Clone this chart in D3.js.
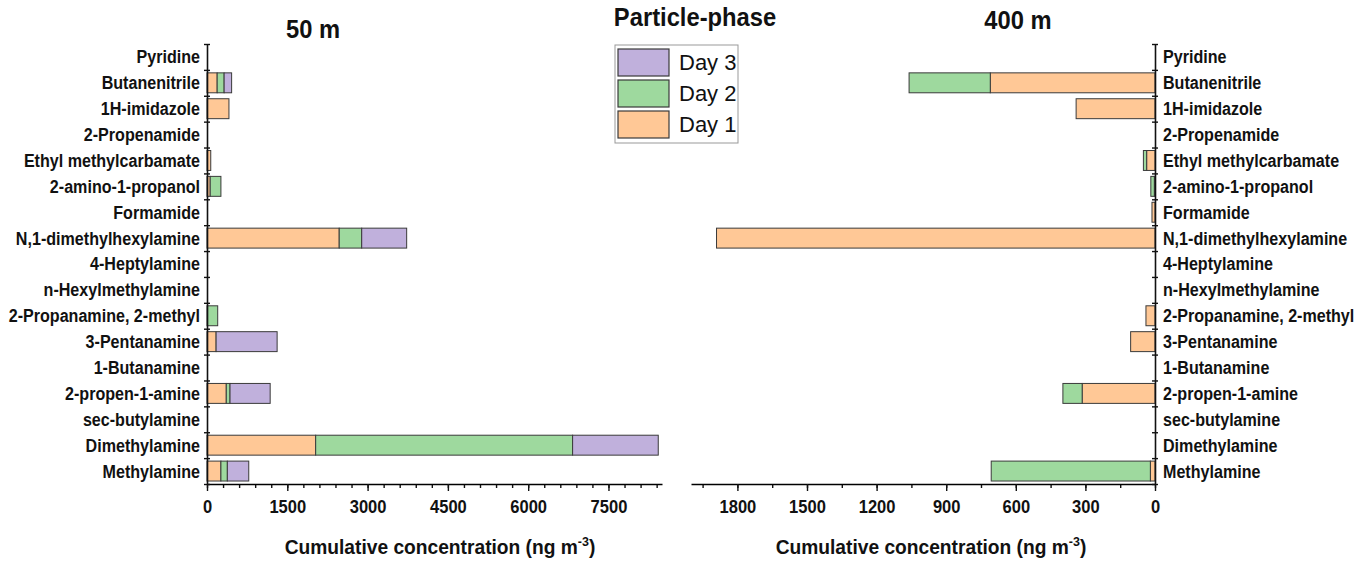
<!DOCTYPE html>
<html lang="en">
<head>
    <meta charset="UTF-8">
    <title>Particle-phase amines</title>
    <script src="https://d3js.org/d3.v7.min.js"></script>
    <style>
        body{ margin: 0; background: #fff; }
        svg{ display: block; }
        text{ fill: #111; }
        .cat{ font-family: "Liberation Sans", Arial, sans-serif; font-weight: bold; font-size: 18.5px; }
        .tick text{ font-family: "Liberation Sans", Arial, sans-serif; font-weight: bold; font-size: 19px; fill: #111; }
        .title{ font-family: "Liberation Sans", Arial, sans-serif; font-weight: bold; font-size: 25px; }
        .axtitle{ font-family: "Liberation Sans", Arial, sans-serif; font-weight: bold; font-size: 20px; }
        .legend text{ font-family: "Liberation Sans", Arial, sans-serif; font-size: 22px; }
    </style>
</head>
<body>
<script>

    const width = 1368
    const height = 566
    const narrow = 0.87   // the original uses a condensed face

    // categories from top to bottom
    const categories = ["Pyridine", "Butanenitrile", "1H-imidazole", "2-Propenamide",
        "Ethyl methylcarbamate", "2-amino-1-propanol", "Formamide", "N,1-dimethylhexylamine",
        "4-Heptylamine", "n-Hexylmethylamine", "2-Propanamine, 2-methyl", "3-Pentanamine",
        "1-Butanamine", "2-propen-1-amine", "sec-butylamine", "Dimethylamine", "Methylamine"]

    const days = ["Day 1", "Day 2", "Day 3"]
    const dayColors = ["#FFC896", "#9ED99E", "#C0B0DC"]

    // 50 m site (ng m-3)
    const day1At50 = [0, 190, 410, 0, 70, 60, 0, 2470, 0, 0, 10, 170, 0, 360, 0, 2030, 260]
    const day2At50 = [0, 130, 0, 0, 0, 200, 0, 420, 0, 0, 190, 0, 0, 70, 0, 4800, 120]
    const day3At50 = [0, 140, 0, 0, 0, 0, 0, 840, 0, 0, 0, 1140, 0, 750, 0, 1600, 400]

    // 400 m site (ng m-3)
    const day1At400 = [0, 710, 340, 0, 36, 3, 13, 1890, 0, 0, 39, 105, 0, 314, 0, 0, 20]
    const day2At400 = [0, 350, 0, 0, 14, 15, 0, 0, 0, 0, 0, 0, 0, 83, 0, 0, 686]
    const day3At400 = [0, 0, 0, 0, 0, 0, 0, 0, 0, 0, 0, 0, 0, 0, 0, 0, 0]

    const ticks50 = [0, 1500, 3000, 4500, 6000, 7500]
    const ticks400 = [0, 300, 600, 900, 1200, 1500, 1800]

    let svg = d3.select("body").append("svg")
                .attr("width", width)
                .attr("height", height)

    const plotTop = 44, plotBottom = 484

    function toRows(d1, d2, d3) {
        return categories.map((c, i) => ({cat: c, "Day 1": d1[i], "Day 2": d2[i], "Day 3": d3[i]}))
    }

    const y = d3.scaleBand().domain(categories)
                .range([plotTop, plotBottom])
                .paddingInner(0.23)
                .paddingOuter(0.115)

    const yEdge = d3.scaleLinear().domain([0, categories.length]).range([plotTop, plotBottom])

    const stack = d3.stack().keys(days)

    function drawPanel(opts) {
        const g = svg.append("g")
        const x = opts.x
        const series = stack(opts.rows)

        g.selectAll("g.series")
            .data(series)
            .enter()
            .append("g")
            .attr("fill", (d, i) => dayColors[i])
            .selectAll("rect")
            .data(d => d.filter(p => p[1] - p[0] > 0))
            .enter()
            .append("rect")
            .attr("x", d => Math.min(x(d[0]), x(d[1])))
            .attr("width", d => Math.abs(x(d[1]) - x(d[0])))
            .attr("y", d => y(d.data.cat))
            .attr("height", y.bandwidth())
            .attr("stroke", "#3a3a3a")
            .attr("stroke-width", 1)

        // x axis, major and minor ticks
        const xAxisG = g.append("g").attr("transform", `translate(0,${plotBottom})`)
        xAxisG.append("g")
            .call(d3.axisBottom(x).tickValues(opts.minor).tickSize(4).tickFormat("").tickSizeOuter(0))
            .call(a => a.select(".domain").remove())
        xAxisG.append("g")
            .call(d3.axisBottom(x).tickValues(opts.ticks).tickSize(7).tickPadding(9)
                    .tickFormat(d3.format("d")).tickSizeOuter(0))
            .call(a => a.select(".domain").attr("stroke-width", 1.6))
        xAxisG.selectAll("line").attr("stroke", "#111").attr("stroke-width", 1.4)
        xAxisG.selectAll(".tick text").attr("transform", `scale(${narrow},1)`)

        // category axis with ticks crossing at band edges
        const x0 = x(0)
        const yAxisG = g.append("g").attr("transform", `translate(${x0},0)`)
        yAxisG.call(d3.axisLeft(yEdge).ticks(categories.length).tickSize(3).tickFormat("").tickSizeOuter(0))
        yAxisG.selectAll(".tick line").attr("x1", 3).attr("stroke", "#111").attr("stroke-width", 1.4)
        yAxisG.select(".domain").attr("stroke", "#111").attr("stroke-width", 1.6)

        g.selectAll("text.cat")
            .data(categories)
            .enter()
            .append("text")
            .attr("class", "cat")
            .attr("transform", d => `translate(${x0 + opts.labelDx},${y(d) + y.bandwidth() / 2}) scale(${narrow},1)`)
            .attr("dy", "0.35em")
            .attr("text-anchor", opts.labelAnchor)
            .text(d => d)

        const t = g.append("text")
            .attr("class", "axtitle")
            .attr("transform", `translate(${opts.titleX},554) scale(0.96,1)`)
            .attr("text-anchor", "middle")
        t.append("tspan").text("Cumulative concentration (ng m")
        t.append("tspan").attr("dy", -8).attr("font-size", 13).text("-3")
        t.append("tspan").attr("dy", 8).text(")")
    }

    const x50 = d3.scaleLinear().domain([0, 8500]).range([207, 662])
    drawPanel({
        x: x50, rows: toRows(day1At50, day2At50, day3At50),
        ticks: ticks50, minor: d3.range(0, 8501, 300),
        labelDx: -7, labelAnchor: "end", titleX: 440
    })

    const x400 = d3.scaleLinear().domain([2000, 0]).range([691, 1155])
    drawPanel({
        x: x400, rows: toRows(day1At400, day2At400, day3At400),
        ticks: ticks400, minor: d3.range(0, 2001, 150),
        labelDx: 8, labelAnchor: "start", titleX: 931
    })

    // titles
    const titles = [["50 m", 313, 38], ["Particle-phase", 695, 26], ["400 m", 1018, 29]]
    svg.selectAll("text.title")
        .data(titles)
        .enter()
        .append("text")
        .attr("class", "title")
        .attr("transform", d => `translate(${d[1]},${d[2]}) scale(0.95,1)`)
        .attr("text-anchor", "middle")
        .text(d => d[0])

    // legend, Day 3 on top
    const legend = svg.append("g").attr("class", "legend").attr("transform", "translate(615,45)")
    legend.append("rect").attr("width", 123).attr("height", 98)
        .attr("fill", "#fff").attr("stroke", "#999").attr("stroke-width", 1)
    const order = [2, 1, 0]
    const li = legend.selectAll("g.item").data(order).enter().append("g")
        .attr("transform", (d, i) => `translate(3,${4 + i * 31})`)
    li.append("rect").attr("width", 51).attr("height", 27)
        .attr("fill", d => dayColors[d]).attr("stroke", "#3a3a3a").attr("stroke-width", 1.2)
    li.append("text").attr("x", 61).attr("y", 13.5).attr("dy", "0.36em").text(d => days[d])

</script>
</body>
</html>
